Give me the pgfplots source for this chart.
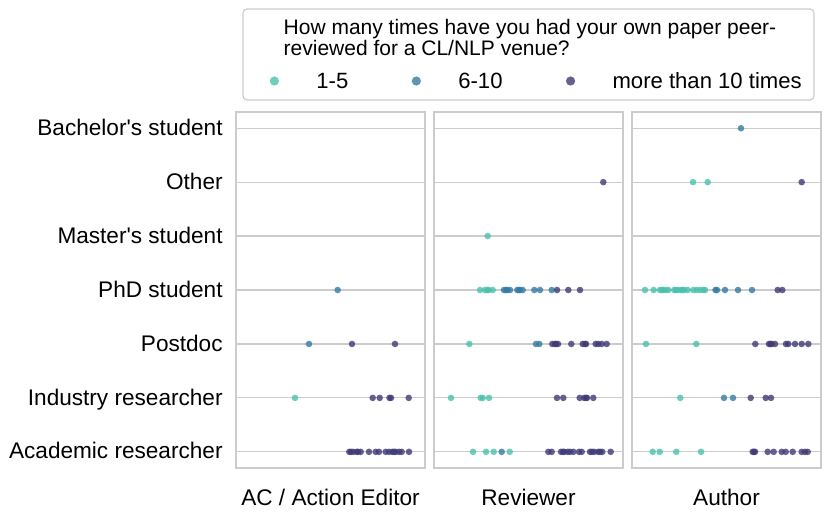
\documentclass[border=0pt]{standalone}
\usepackage{pgfplots}
\pgfplotsset{compat=1.18}
\usepackage{fontspec}
\setmainfont{Liberation Sans}

\definecolor{lowc}{HTML}{4AC1AD}
\definecolor{midc}{HTML}{357BA3}
\definecolor{highc}{HTML}{403A76}
\definecolor{framec}{HTML}{CCCCCC}

\newcommand{\labfont}{\fontsize{11.3}{13.5}\selectfont}

\pgfplotsset{
  panel/.style={
    scale only axis, width=94.5pt, height=178pt, anchor=south west,
    xmin=0, xmax=189, ymin=-0.3, ymax=6.3,
    xtick=\empty, ytick={0,...,6}, yticklabels={},
    major tick length=0pt,
    ymajorgrids, grid style={draw=framec, line width=0.6pt},
    axis line style={draw=framec, line width=1pt},
    clip=false,
    label style={font=\labfont},
    x label style={at={(axis description cs:0.5,0)}, anchor=base, yshift=-18.5pt, inner sep=0pt},
    yticklabel style={font=\labfont, inner sep=0pt, xshift=-6.5pt, text height=0.716em, text depth=0pt},
  },
  legimg/.style={legend image code/.code={%
    \path[draw=none, fill=none] (-2.3pt,0pt) rectangle (21pt,0pt);
    \draw[##1, mark size=2.3pt] plot coordinates {(0pt,0pt)};}},
  dots/.style={only marks, mark=*, mark size=1.65pt,
    mark options={draw=#1, fill=#1, draw opacity=0, fill opacity=0.8}, legimg},
  low/.style={dots=lowc},
  mid/.style={dots=midc},
  high/.style={dots=highc},
}

\begin{document}
\begin{tikzpicture}
\useasboundingbox (0,0) rectangle (415.5pt,255.5pt);

% AC / Action Editor
\begin{axis}[panel, at={(118pt,21.5pt)},
  yticklabels={Academic researcher, Industry researcher, Postdoc, PhD student,
    Master\textquotesingle s student, Other, Bachelor\textquotesingle s student},
  xlabel={AC / Action Editor}]
\addplot[low] coordinates {(59,1)};
\addplot[mid] coordinates {(101.7,3) (73,2)};
\addplot[high] coordinates {
  (116,2) (159,2)
  (136.7,1) (143.7,1) (153.5,1) (155,1) (172.7,1)
  (113.3,0) (115,0) (117.3,0) (120.7,0) (122,0) (124.7,0) (133,0) (139.7,0)
  (143,0) (149.7,0) (153,0) (156.3,0) (158,0) (159.7,0) (163,0) (165.7,0) (173,0)};
\end{axis}

% Reviewer
\begin{axis}[panel, at={(217pt,21.5pt)}, xlabel={Reviewer},
  legend columns=3,
  legend style={at={(axis description cs:-0.8709,1.0871)}, anchor=west,
    draw=none, fill=none, inner sep=0pt, font=\fontsize{11.05}{13.5}\selectfont,
    /tikz/column sep=0pt,
    /tikz/every even column/.append style={column sep=31.7pt},
    nodes={inner sep=0pt, text height=0.716em, text depth=0pt},
    cells={anchor=west}}]
\addplot[low] coordinates {
  (53.7,4)
  (46,3) (51,3) (53.3,3) (54.5,3) (58.7,3)
  (35.3,2)
  (17,1) (46.7,1) (48.7,1) (55,1)
  (39,0) (52,0) (59.7,0) (75.7,0)};
\addplot[mid] coordinates {
  (70,3) (72,3) (73.3,3) (76,3) (83.3,3) (85,3) (86,3) (88.7,3) (100.3,3) (106,3) (117.7,3)
  (102,2) (105.3,2)
  (67.7,0)};
\addplot[high] coordinates {
  (169.3,5)
  (123,3) (134.3,3) (146,3)
  (118.3,2) (121,2) (122,2) (124,2) (137.3,2) (148.7,2) (151,2) (152,2)
  (161.7,2) (164.3,2) (167.7,2) (172.7,2)
  (123,1) (129.3,1) (145.7,1) (150.3,1) (152,1) (153,1) (159.3,1)
  (114.3,0) (117.7,0) (127,0) (129,0) (130.3,0) (133.7,0) (136,0) (139.3,0) (145,0)
  (147.7,0) (156,0) (158,0) (160.3,0) (164.3,0) (166,0) (168.3,0) (176.7,0)};
\legend{1-5, 6-10, more than 10 times}
\end{axis}

% Author
\begin{axis}[panel, at={(316pt,21.5pt)}, xlabel={Author}]
\addplot[low] coordinates {
  (61,5) (75.7,5)
  (13,3) (21.7,3) (28,3) (30,3) (31.3,3) (33.7,3) (36.3,3) (42.3,3) (44,3) (45.7,3)
  (49,3) (50.5,3) (52.3,3) (55.7,3) (61.3,3) (64.7,3) (68,3) (71.3,3) (73,3)
  (14,2) (64.3,2)
  (48.3,1)
  (20.7,0) (27.7,0) (44.3,0) (69,0)};
\addplot[mid] coordinates {
  (109,6)
  (83.5,3) (85,3) (93,3) (106,3) (120,3)
  (92,1) (101,1)};
\addplot[high] coordinates {
  (169.7,5)
  (145.7,3) (150.3,3)
  (123.3,2) (137,2) (138.5,2) (139.7,2) (143,2) (154,2) (156.3,2) (163,2) (169.7,2) (176.3,2)
  (118.7,1) (133.7,1) (139,1)
  (120.7,0) (122,0) (123,0) (135.7,0) (141.7,0) (149.7,0) (153.7,0) (160.7,0)
  (169.7,0) (173,0) (175.7,0)};
\end{axis}

% legend frame and title
\draw[framec, line width=0.6pt, rounded corners=2pt] (121.5pt,205.5pt) rectangle (407pt,251pt);
\node[anchor=base west, inner sep=0pt, font=\fontsize{10.5}{12}\selectfont] at (141.65pt,238.5pt)
  {How many times have you had your own paper peer-};
\node[anchor=base west, inner sep=0pt, font=\fontsize{10.5}{12}\selectfont] at (141.65pt,228pt)
  {reviewed for a CL/NLP venue?};
\end{tikzpicture}
\end{document}
